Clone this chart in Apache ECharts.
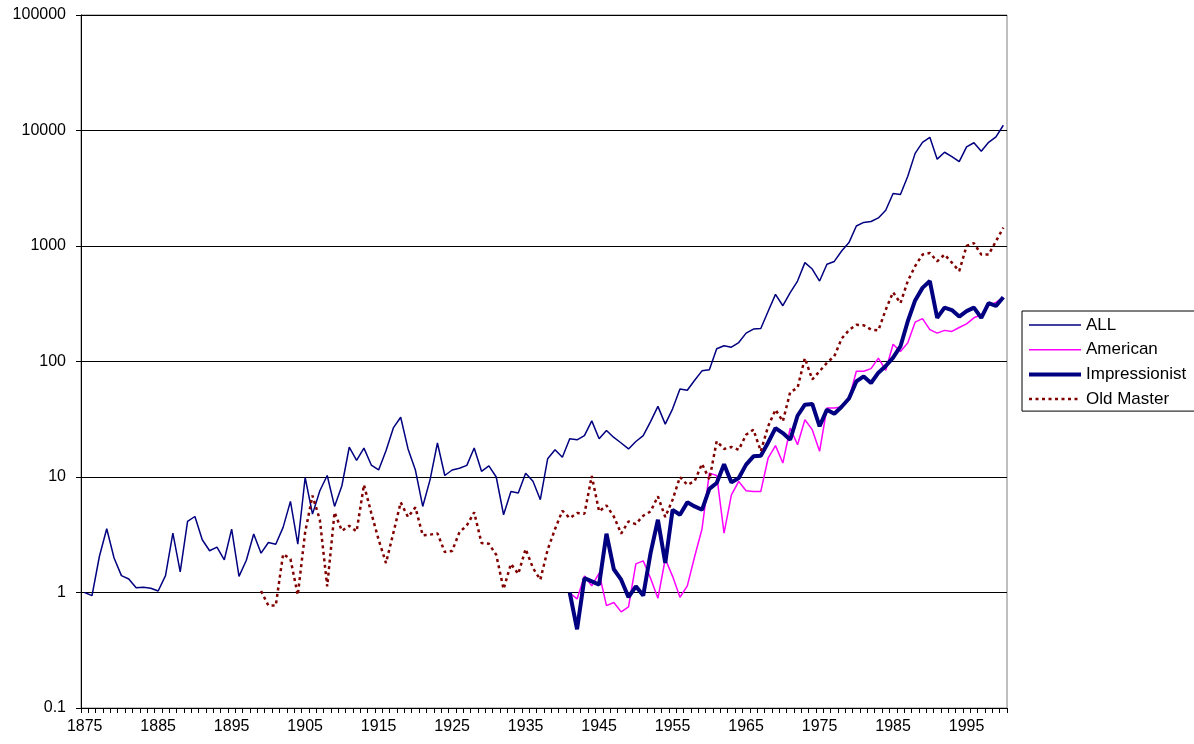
<!DOCTYPE html>
<html>
<head>
<meta charset="utf-8">
<script src="https://cdn.jsdelivr.net/npm/echarts@6/dist/echarts.min.js"></script>
<style>
html,body{margin:0;padding:0;background:#ffffff;}
#chart{width:1194px;height:744px;}
</style>
</head>
<body>
<div id="chart"></div>
<script>
// ---- data ----
const years = [
1875,1876,1877,1878,1879,1880,1881,1882,1883,1884,1885,1886,1887,1888,1889,1890,1891,1892,1893,1894,
1895,1896,1897,1898,1899,1900,1901,1902,1903,1904,1905,1906,1907,1908,1909,1910,1911,1912,1913,1914,
1915,1916,1917,1918,1919,1920,1921,1922,1923,1924,1925,1926,1927,1928,1929,1930,1931,1932,1933,1934,
1935,1936,1937,1938,1939,1940,1941,1942,1943,1944,1945,1946,1947,1948,1949,1950,1951,1952,1953,1954,
1955,1956,1957,1958,1959,1960,1961,1962,1963,1964,1965,1966,1967,1968,1969,1970,1971,1972,1973,1974,
1975,1976,1977,1978,1979,1980,1981,1982,1983,1984,1985,1986,1987,1988,1989,1990,1991,1992,1993,1994,
1995,1996,1997,1998,1999,2000];

const yTickLabels = ['0.1','1','10','100','1000','10000','100000'];

const seriesNames = ['ALL','American','Impressionist','Old Master'];

// ALL: 1875-2000
const allValues = [
1.0,0.94,2.05,3.56,1.99,1.40,1.31,1.10,1.11,1.09,
1.03,1.40,3.27,1.51,4.12,4.55,2.86,2.30,2.47,1.92,
3.54,1.38,1.9,3.21,2.19,2.71,2.62,3.66,6.15,2.62,
9.9,4.77,7.6,10.3,5.56,8.4,18.1,13.9,17.8,12.7,
11.5,16.9,26.6,32.9,17.5,11.5,5.56,9.5,19.7,10.3,
11.5,11.9,12.6,17.8,11.2,12.5,10.0,4.71,7.5,7.26,
10.8,9.18,6.36,14.4,17.2,14.8,21.4,21.0,22.8,30.6,
21.4,25.3,22.0,19.7,17.5,20.3,22.8,30.2,40.9,28.7,
38.9,57.8,56.3,68.8,83.0,84.8,129,137,133,146,
176,191,193,272,381,304,395,497,718,632,
497,695,735,906,1070,1490,1600,1630,1750,2040,
2850,2790,4020,6340,7900,8730,5650,6480,5940,5370,
7220,7830,6610,7900,8800,11100];

// American: 1941-2000
const americanStart = 1941;
const americanValues = [
0.99,0.88,1.39,1.14,1.47,0.77,0.82,0.68,0.75,1.77,
1.88,1.33,0.89,1.95,1.38,0.91,1.14,2.05,3.55,10.8,
10.3,3.27,7.0,9.15,7.6,7.5,7.5,14.6,18.7,13.2,
26.5,19.0,31.3,25.7,16.7,39.6,39.6,40.3,47.5,82.4,
82.4,86.7,107,83.9,141,122,145,219,235,189,
176,186,182,197,212,239,254,305,325,360];

// Impressionist: 1941-2000
const impressionistStart = 1941;
const impressionistValues = [
1.0,0.48,1.33,1.25,1.17,3.23,1.59,1.29,0.91,1.13,
0.94,2.19,4.26,1.80,5.2,4.71,6.03,5.56,5.2,7.9,
8.87,12.9,8.98,9.79,12.8,15.1,15.3,19.9,26.5,24.0,
21.0,33.9,42.3,42.9,27.5,38.3,35.3,40.6,47.8,67.3,
74.3,65.1,80,91.5,108,135,223,338,434,497,
239,293,279,245,273,293,239,320,303,360];

// Old Master: 1899-2000
const oldMasterStart = 1899;
const oldMasterValues = [
1.03,0.77,0.77,2.15,1.95,0.95,3.33,6.9,4.26,1.13,
4.94,3.42,3.78,3.38,8.56,4.87,2.86,1.80,3.27,6.03,
4.5,5.46,3.12,3.17,3.25,2.24,2.29,3.33,3.81,4.94,
2.68,2.64,2.12,1.07,1.77,1.45,2.38,1.63,1.29,2.35,
3.54,5.1,4.41,4.87,4.8,10.2,5.03,5.67,4.55,3.23,
4.12,3.91,4.62,5.03,6.79,4.5,6.36,10.0,8.56,9.2,
13.0,9.5,20.4,17.5,18.2,17.2,23.2,25.7,16.7,27.5,
38.3,30.3,54.3,59.2,107,69.8,82.4,97.4,111,158,
187,208,206,189,186,281,398,320,497,669,
843,871,737,843,717,607,1000,1060,843,843,
1100,1440];

// ---- styles ----
const lineStyles = {
  'ALL':           {color: '#000080', width: 1.5, type: 'solid'},
  'American':      {color: '#FF00FF', width: 1.5, type: 'solid'},
  'Impressionist': {color: '#000080', width: 4,   type: 'solid'},
  'Old Master':    {color: '#800000', width: 2.5, type: [3, 3.5]}
};

// ---- build ----
function alignToYears(start, vals){
  const out = years.map(() => null);
  const off = years.indexOf(start);
  vals.forEach((v, i) => { out[off + i] = v; });
  return out;
}

const seriesData = {
  'ALL': allValues,
  'American': alignToYears(americanStart, americanValues),
  'Impressionist': alignToYears(impressionistStart, impressionistValues),
  'Old Master': alignToYears(oldMasterStart, oldMasterValues)
};

const FONT = "'Liberation Sans', Arial, sans-serif";

const chart = echarts.init(document.getElementById('chart'), null, {renderer: 'canvas'});
chart.setOption({
  animation: false,
  backgroundColor: '#ffffff',
  grid: {
    left: 81, right: 187, top: 15, bottom: 36,
    show: true, borderColor: '#808080', borderWidth: 1, backgroundColor: 'transparent'
  },
  legend: {
    orient: 'vertical',
    left: 1022, top: 311,
    padding: [5, 24, 3, 5],
    itemWidth: 52, itemHeight: 14, itemGap: 6.7,
    borderColor: '#000000', borderWidth: 1, borderRadius: 0,
    backgroundColor: '#ffffff',
    itemStyle: {opacity: 0},
    textStyle: {fontFamily: FONT, fontSize: 17, color: '#000000', lineHeight: 18},
    data: seriesNames.map(n => ({
      name: n,
      lineStyle: {color: lineStyles[n].color, width: lineStyles[n].width, type: lineStyles[n].type}
    }))
  },
  xAxis: {
    type: 'category',
    data: years,
    boundaryGap: true,
    axisLine: {show: true, lineStyle: {color: '#000000', width: 1}},
    axisTick: {show: true, interval: 0, length: 5, inside: false, lineStyle: {color: '#000000'}},
    axisLabel: {interval: 9, margin: 11, fontFamily: FONT, fontSize: 16, color: '#000000'},
    splitLine: {show: false}
  },
  yAxis: {
    type: 'log',
    logBase: 10,
    min: 0.1, max: 100000,
    axisLine: {show: true, lineStyle: {color: '#000000', width: 1}},
    axisTick: {show: true, length: 5, lineStyle: {color: '#000000'}},
    axisLabel: {
      margin: 15, fontFamily: FONT, fontSize: 16, color: '#000000',
      formatter: v => yTickLabels[Math.round(Math.log10(v)) + 1]
    },
    splitLine: {show: true, lineStyle: {color: '#000000', width: 1}},
    minorTick: {show: false}
  },
  series: seriesNames.map(n => ({
    name: n, type: 'line', symbol: 'none',
    data: seriesData[n],
    lineStyle: lineStyles[n],
    itemStyle: {color: lineStyles[n].color}
  }))
});
</script>
</body>
</html>
